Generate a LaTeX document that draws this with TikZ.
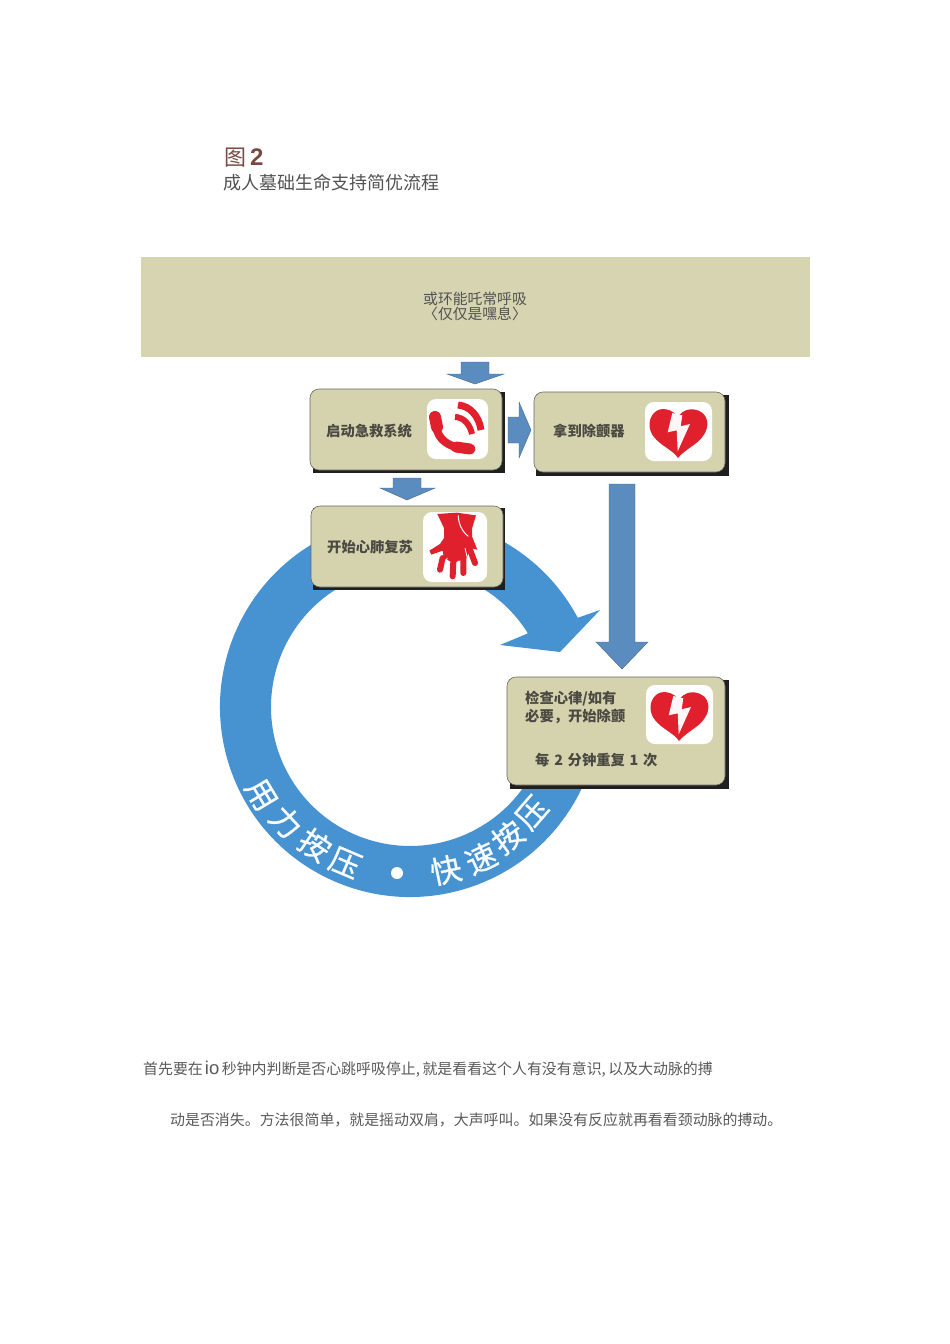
\documentclass[tikz,border=0pt]{standalone}
\usepackage{fontspec}
\setmainfont{Noto Sans CJK SC}
\newfontfamily\latinsans{Liberation Sans}
\newfontfamily\ringfont[FakeBold=0.7]{Noto Sans CJK SC}
\definecolor{bandc}{HTML}{D7D4B1}
\definecolor{boxc}{HTML}{D5D2AE}
\definecolor{ringc}{HTML}{4793D1}
\definecolor{arrowc}{HTML}{5B8CBF}
\definecolor{redc}{HTML}{E0202C}
\definecolor{brownc}{HTML}{7A4A42}
\definecolor{bodyc}{HTML}{5A5A5A}
\definecolor{labelc}{HTML}{4A4A42}
\tikzset{
  shadowbox/.style={fill=black!88},
  mainbox/.style={fill=boxc,draw=black!60,line width=.6pt,rounded corners=9pt},
  blockarrow/.style={fill=arrowc,draw=arrowc!75!black,line width=.4pt},
  ringtxt/.style={text=white!96!ringc,font=\fontsize{31}{31}\selectfont\ringfont,inner sep=0pt},
  boxlabel/.style={text=labelc,font=\fontsize{14.3}{15}\selectfont\bfseries,inner sep=0pt,anchor=west},
  bandlabel/.style={text=black!68,font=\fontsize{14.8}{15}\selectfont,inner sep=0pt},
  bodytxt/.style={text=bodyc,font=\fontsize{14.93}{15}\selectfont,inner sep=0pt,anchor=west},
  heart/.pic={
    \fill[white] (0,0) [rounded corners=9pt] rectangle (67,59);
    \fill[redc] (33,15) .. controls (28,7) and (15,4) .. (9,11)
      .. controls (3,17) and (3,28) .. (9,35)
      .. controls (16,44) and (28,48) .. (33,56)
      .. controls (39,48) and (53,42) .. (58,34)
      .. controls (65,25) and (63,14) .. (56,10)
      .. controls (48,5) and (38,7) .. (33,15) -- cycle;
    \fill[white!96!redc] (27.3,11) -- (22.7,30.3) -- (31.7,28.3) -- (32.7,49.3)
      -- (45,22) -- (35.7,24.3) -- (37.3,13.3) -- cycle;
  }
}
\begin{document}
\begin{tikzpicture}[x=1pt,y=-1pt]
\useasboundingbox (0,0) rectangle (950,1344);
\fill[white] (0,0) rectangle (950,1344);

% title
\node[inner sep=0pt,text=brownc,font=\fontsize{22}{22}\selectfont,anchor=west] (t1) at (224,157.5) {图};
\node[inner sep=0pt,text=brownc,font=\fontsize{24}{24}\selectfont\latinsans\bfseries,anchor=west] (t2) at (250,157) {2};
\node[inner sep=0pt,text=black!68,font=\fontsize{18}{18}\selectfont,anchor=west] (t3) at (223,183) {成人墓础生命支持简优流程};

% top band
\node[fill=bandc,minimum width=669pt,minimum height=100pt,inner sep=0pt] (band) at (475.5,307) {};
\node[bandlabel] (b1) at (475,298.5) {或环能吒常呼吸};
\node[bandlabel] (b2) at (475,314) {〈仅仅是嘿息〉};

% ring
\fill[ringc] (582.2,787.3) arc[start angle=25,end angle=332,radius=190]
  -- (600,610) -- (560,652) -- (500,645) -- (524,635) -- (527.9,633.3)
  arc[start angle=328,end angle=25,radius=139] -- cycle;
\node[ringtxt,rotate=-59] (r1) at (261,795) {用};
\node[ringtxt,rotate=-47] (r2) at (286,822) {力};
\node[ringtxt,rotate=-34] (r3) at (315,845) {按};
\node[ringtxt,rotate=-23] (r4) at (345,863) {压};
\node[circle,fill=white,minimum size=12pt,inner sep=0pt] (rdot) at (397,873) {};
\node[ringtxt,rotate=12] (r5) at (446,870) {快};
\node[ringtxt,rotate=25] (r6) at (481,858) {速};
\node[ringtxt,rotate=37] (r7) at (508,837) {按};
\node[ringtxt,rotate=49] (r8) at (532,813) {压};

% block arrows
\path[blockarrow] (461,362) -- (489,362) -- (489,374) -- (504,374) -- (475,384) -- (447,374) -- (461,374) -- cycle;
\path[blockarrow] (508,417) -- (519,417) -- (519,402) -- (531,430) -- (519,458) -- (519,443) -- (508,443) -- cycle;
\path[blockarrow] (393,478) -- (421,478) -- (421,488) -- (435,488) -- (407,500) -- (380,488) -- (393,488) -- cycle;
\path[blockarrow] (609,484) -- (635,484) -- (635,642) -- (648,642) -- (622,669) -- (596,642) -- (609,642) -- cycle;

% box 1
\fill[shadowbox] (313,392) rectangle (505,473);
\draw[mainbox] (310,389) rectangle (502,470);
\node[boxlabel] (l1) at (326,431) {启动急救系统};
\fill[white] (427,399) [rounded corners=9pt] rectangle (488,459);
\draw[redc,line width=8pt] (436,422) .. controls (436,434) and (441,446) .. (468,450);
\draw[redc,line width=12pt,line cap=round] (435,417) -- (437,427);
\draw[redc,line width=11pt,line cap=round] (456,447) -- (470,449);
\draw[redc,line width=7pt] (458,405) .. controls (470,406) and (479,416) .. (481,430);
\draw[redc,line width=6pt] (455,417) .. controls (463,417) and (470,424) .. (472,434);

% box 2
\fill[shadowbox] (536,395) rectangle (729,476);
\draw[mainbox] (534,392) rectangle (725,472);
\node[boxlabel] (l2) at (553,431) {拿到除颤器};
\pic at (645,402) {heart};

% box 3
\fill[shadowbox] (313,508) rectangle (505,590);
\draw[mainbox] (311,506) rectangle (503,587);
\node[boxlabel] (l3) at (327,547) {开始心肺复苏};
\fill[white] (423,512) [rounded corners=9pt] rectangle (487,582);
\begin{scope}[shift={(420,508)},x=.3333pt,y=-.3333pt]
\fill[redc] (52,18) -- (110,14) -- (168,22) -- (156,62) -- (156,85) -- (172,125) -- (150,120) -- (140,150) -- (100,165) -- (72,150) -- (68,128) -- (34,140) -- (28,128) -- (60,108) -- (72,90) -- (72,60) -- cycle;
\draw[redc,line width=6pt,line cap=round] (68,150) -- (60,185) (100,160) -- (98,205) (130,150) -- (130,195) (150,125) -- (165,165);
\draw[white,line width=1pt] (115,22) .. controls (115,45) and (125,70) .. (145,85);
\draw[white,line width=.8pt] (82,150) -- (75,165) (115,158) -- (114,175) (135,120) -- (142,150);
\end{scope}

% box 4
\fill[shadowbox] (510,680) rectangle (729,789);
\draw[mainbox] (507,677) rectangle (725,785);
\node[boxlabel] (l4) at (525,698.5) {检查心律/如有};
\node[boxlabel] (l5) at (525,716.5) {必要，开始除颤};
\node[boxlabel] (l6) at (535,760) {每\,\,2\,\,分钟重复\,\,1\,\,次};
\pic at (646,685) {heart};

% body text
\node[bodytxt] (p1) at (143,1069.5) {首先要在{\hskip2pt\latinsans\fontsize{18.5}{19}\selectfont io}\,秒钟内判断是否心跳呼吸停止,\,就是看看这个人有没有意识,\,以及大动脉的搏};
\node[bodytxt] (p2) at (170,1119.5) {动是否消失。方法很简单，就是摇动双肩，大声呼叫。如果没有反应就再看看颈动脉的搏动。};
\end{tikzpicture}
\end{document}
